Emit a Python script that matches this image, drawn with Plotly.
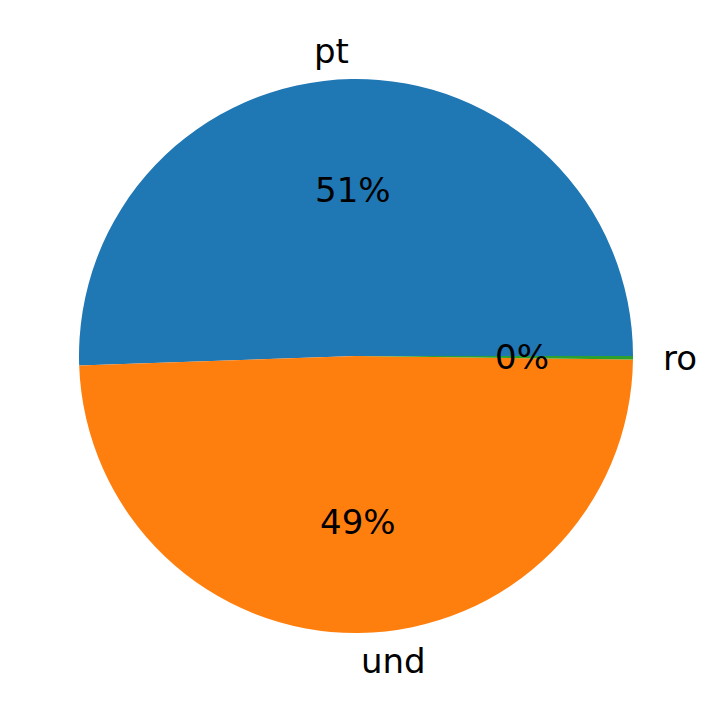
import math
import plotly.graph_objects as go

labels = ["pt", "und", "ro"]
values = [50.55, 49.25, 0.2]
colors = ["#1f77b4", "#ff7f0e", "#2ca02c"]

W, H = 712, 713
OFF = 8  # browser body margin
CX, CY, R = 356 - OFF, 356 - OFF, 277  # pie centre (figure px from left/top) and radius
FONT = 34

total = sum(values)
# first slice starts at 3 o'clock and runs counterclockwise
rotation = 90 - 360 * values[0] / total

fig = go.Figure(go.Pie(
    labels=labels, values=values, sort=False, direction="counterclockwise",
    rotation=rotation, textinfo="none", hoverinfo="label+percent",
    marker=dict(colors=colors, line=dict(width=0)),
    domain=dict(x=[(CX - R) / W, (CX + R) / W], y=[(H - CY - R) / H, (H - CY + R) / H]),
    showlegend=False,
))

annotations = []
start = 0.0
for lab, v in zip(labels, values):
    frac = v / total
    mid = 2 * math.pi * (start + frac / 2)
    start += frac
    c, s = math.cos(mid), math.sin(mid)
    lx = (CX + 1.1 * R * c) / W
    ly = (H - CY + 1.1 * R * s) / H
    annotations.append(dict(x=lx, y=ly, xref="paper", yref="paper", text=lab, showarrow=False,
                            xanchor="right" if c < 0 else "left", yanchor="middle",
                            font=dict(size=FONT, color="black")))
    px = (CX + 0.6 * R * c) / W
    py = (H - CY + 0.6 * R * s) / H
    annotations.append(dict(x=px, y=py, xref="paper", yref="paper", text=f"{round(frac*100):.0f}%",
                            showarrow=False, xanchor="center", yanchor="middle",
                            font=dict(size=FONT, color="black")))

fig.update_layout(
    width=W, height=H, margin=dict(l=0, r=0, t=0, b=0),
    paper_bgcolor="white", plot_bgcolor="white",
    font=dict(family="DejaVu Sans"),
    annotations=annotations,
)
fig.write_html("out.html")
